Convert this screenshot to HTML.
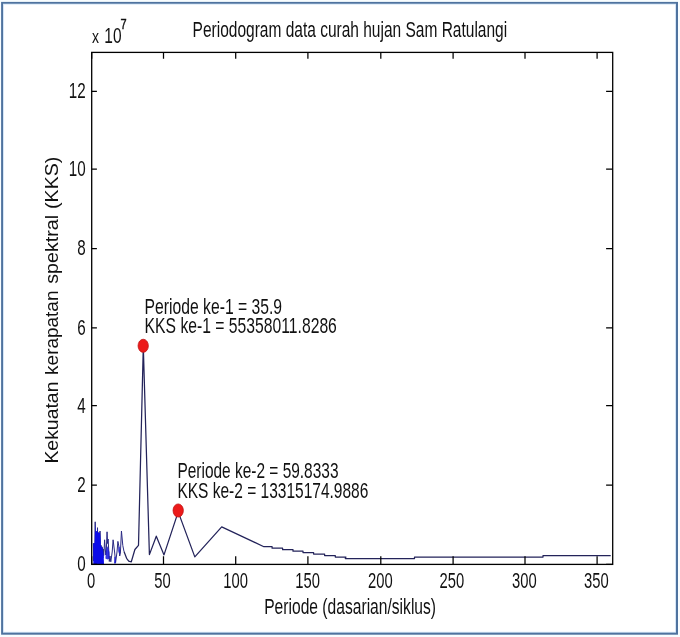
<!DOCTYPE html>
<html><head><meta charset="utf-8"><title>Periodogram</title>
<style>html,body{margin:0;padding:0;background:#fff;}svg{display:block;}</style></head>
<body>
<svg width="680" height="637" viewBox="0 0 680 637" font-family="'Liberation Sans', sans-serif" font-size="15.5" fill="#111">
<rect x="0" y="0" width="680" height="637" fill="#f8fdff"/>
<rect x="1.1" y="1.9" width="676.9" height="632.8" fill="#4f739f"/>
<rect x="3" y="3.7" width="673" height="629" fill="#d2e4f6"/>
<rect x="3.9" y="4.6" width="671.2" height="627.2" fill="#ffffff"/>
<path d="M610.70,555.60 L543.00,555.60 L543.00,557.10 L414.50,557.10 L414.50,558.60 L345.30,558.60 L345.90,557.10 L335.30,557.10 L335.30,555.60 L324.60,555.60 L324.60,554.10 L313.60,554.10 L313.60,552.60 L303.00,552.60 L303.00,551.20 L293.00,551.20 L293.00,549.70 L282.60,549.70 L282.60,548.20 L272.10,548.20 L272.10,546.70 L263.90,546.70 L221.70,526.90 L194.80,556.90 L178.20,511.90 L164.00,554.90 L156.30,536.20 L149.40,554.60 L143.30,346.20 L138.50,545.30 L134.90,549.50 L133.00,556.00 L131.30,561.80 L128.70,561.20 L126.60,558.30 L124.00,551.50" fill="none" stroke="#23235a" stroke-width="1.25" stroke-linejoin="round"/>
<path d="M124.00,551.50 L122.80,545.50 L121.45,531.00 L120.40,553.00 L119.70,556.00 L118.80,546.00 L117.90,541.40 L117.00,552.00 L115.60,562.50 L114.60,552.00 L113.10,539.80 L112.20,552.00 L110.80,561.80 L110.00,556.00 L109.30,561.50 L108.60,548.00 L108.10,539.00 L107.60,543.50 L107.05,531.80 L106.40,548.00 L105.80,555.00 L105.20,548.00 L104.60,539.80 L104.10,550.00 L103.70,555.50 L103.30,549.00 L102.90,558.00 L102.50,547.50 L102.10,560.00 L101.70,546.50 L101.30,559.00 L100.90,545.00 L100.50,558.00 L100.00,531.00 L99.60,556.00 L99.20,533.50 L98.80,552.00 L98.40,532.50 L98.00,550.00 L97.50,527.70 L97.10,552.00 L96.70,531.50 L96.30,548.00 L95.90,531.00 L95.50,550.00 L95.20,521.80 L94.90,552.00 L94.60,543.00 L94.30,560.00 L94.00,543.20 L93.70,561.00 L93.40,543.40" fill="none" stroke="#2a2a84" stroke-width="1.0" stroke-linejoin="round"/>
<polygon points="93.3,564.4 93.3,543.4 94.6,543.0 94.9,534.0 95.2,523.5 95.6,531.5 96.3,532.0 97.0,531.0 97.5,529.0 98.0,532.5 98.7,533.0 99.5,532.5 100.0,532.5 100.5,538.0 100.9,545.8 102.5,548.0 103.7,555.2 104.0,564.4" fill="#0c0ce8"/>
<polygon points="105.4,558.5 105.8,552 107.0,546 108.2,548 109.4,552 109.5,558.5 107.5,559.5" fill="#1414d8" opacity="0.85"/>
<polygon points="114.0,563.6 114.4,557 115.6,556.4 116.0,563.6" fill="#1414d8" opacity="0.85"/>
<polygon points="118.2,551 118.6,546.5 119.8,547 120.1,552.5 119.0,553.5" fill="#1414d8" opacity="0.7"/>
<rect x="91.7" y="52.4" width="521.00" height="512.00" fill="none" stroke="#000" stroke-width="1.3"/>
<path d="M91.70,564.4 v-8.2 M91.70,52.4 v6.4 M163.50,564.4 v-8.2 M163.50,52.4 v6.4 M235.70,564.4 v-8.2 M235.70,52.4 v6.4 M307.90,564.4 v-8.2 M307.90,52.4 v6.4 M380.80,564.4 v-8.2 M380.80,52.4 v6.4 M453.10,564.4 v-8.2 M453.10,52.4 v6.4 M525.00,564.4 v-8.2 M525.00,52.4 v6.4 M597.10,564.4 v-8.2 M597.10,52.4 v6.4 M91.7,91.35 h5.2 M612.7,91.35 h-6.6 M91.7,169.0 h5.2 M612.7,169.0 h-6.6 M91.7,248.5 h5.2 M612.7,248.5 h-6.6 M91.7,327.9 h5.2 M612.7,327.9 h-6.6 M91.7,405.7 h5.2 M612.7,405.7 h-6.6 M91.7,485.1 h5.2 M612.7,485.1 h-6.6 M91.7,564.4 h5.2 M612.7,564.4 h-6.6" stroke="#000" stroke-width="1.25" fill="none"/>
<text transform="translate(91.00,587.80) scale(1,1.44)" font-size="14.8" text-anchor="middle" >0</text>
<text transform="translate(162.40,587.80) scale(1,1.44)" font-size="14.8" text-anchor="middle" >50</text>
<text transform="translate(235.70,587.80) scale(1,1.44)" font-size="14.8" text-anchor="middle" >100</text>
<text transform="translate(307.70,587.80) scale(1,1.44)" font-size="14.8" text-anchor="middle" >150</text>
<text transform="translate(380.30,587.80) scale(1,1.44)" font-size="14.8" text-anchor="middle" >200</text>
<text transform="translate(451.80,587.80) scale(1,1.44)" font-size="14.8" text-anchor="middle" >250</text>
<text transform="translate(524.30,587.80) scale(1,1.44)" font-size="14.8" text-anchor="middle" >300</text>
<text transform="translate(596.45,587.80) scale(1,1.44)" font-size="14.8" text-anchor="middle" >350</text>
<text transform="translate(85.60,98.15) scale(1,1.44)" font-size="15.2" text-anchor="end" >12</text>
<text transform="translate(85.60,175.80) scale(1,1.44)" font-size="15.2" text-anchor="end" >10</text>
<text transform="translate(85.60,255.30) scale(1,1.44)" font-size="15.2" text-anchor="end" >8</text>
<text transform="translate(85.60,334.70) scale(1,1.44)" font-size="15.2" text-anchor="end" >6</text>
<text transform="translate(85.60,412.50) scale(1,1.44)" font-size="15.2" text-anchor="end" >4</text>
<text transform="translate(85.60,491.90) scale(1,1.44)" font-size="15.2" text-anchor="end" >2</text>
<text transform="translate(85.60,571.20) scale(1,1.44)" font-size="15.2" text-anchor="end" >0</text>
<text transform="translate(92.00,42.70) scale(1,1.36)" font-size="14.0" text-anchor="start" >x</text>
<text transform="translate(104.30,42.70) scale(1,1.44)" font-size="15.5" text-anchor="start" >10</text>
<text transform="translate(120.60,29.00) scale(1,1.33)" font-size="11" text-anchor="start" stroke="#111" stroke-width="0.35">7</text>
<text transform="translate(192.60,36.50) scale(1,1.44)" font-size="15.52" text-anchor="start" >Periodogram data curah hujan Sam Ratulangi</text>
<text transform="translate(264.20,613.50) scale(1,1.44)" font-size="15.62" text-anchor="start" >Periode (dasarian/siklus)</text>
<text transform="translate(58.3,463.6) rotate(-90) scale(1,0.9501)" font-size="19.42">Kekuatan</text>
<text transform="translate(58.3,374.9) rotate(-90) scale(1,0.9726)" font-size="18.97">kerapatan</text>
<text transform="translate(58.3,283.7) rotate(-90) scale(1,0.9394)" font-size="19.64">spektral</text>
<text transform="translate(58.3,208.9) rotate(-90) scale(1,0.9413)" font-size="19.6">(KKS)</text>
<text transform="translate(144.60,313.60) scale(1,1.44)" font-size="15.72" text-anchor="start" >Periode ke-1 = 35.9</text>
<text transform="translate(144.60,333.00) scale(1,1.44)" font-size="15.72" text-anchor="start" >KKS ke-1 = 55358011.8286</text>
<text transform="translate(177.40,478.40) scale(1,1.44)" font-size="15.46" text-anchor="start" >Periode ke-2 = 59.8333</text>
<text transform="translate(177.40,497.70) scale(1,1.44)" font-size="15.52" text-anchor="start" >KKS ke-2 = 13315174.9886</text>
<ellipse cx="143.2" cy="345.8" rx="5.15" ry="6.55" fill="#ec1a1a" stroke="#c01414" stroke-width="0.8"/>
<ellipse cx="178.2" cy="510.5" rx="5.15" ry="6.55" fill="#ec1a1a" stroke="#c01414" stroke-width="0.8"/>
</svg>
</body></html>
